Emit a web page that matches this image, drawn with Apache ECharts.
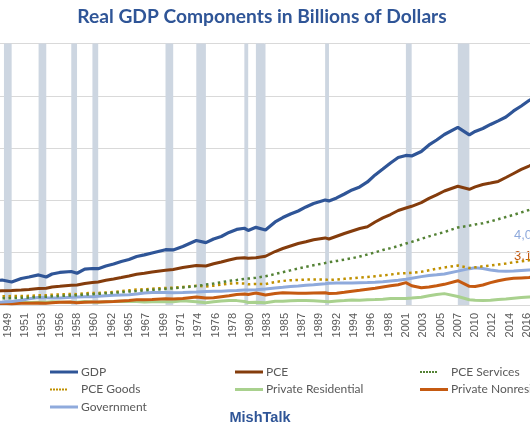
<!DOCTYPE html>
<html>
<head>
<meta charset="utf-8">
<script src="https://cdn.jsdelivr.net/npm/echarts@6/dist/echarts.min.js"></script>
<style>
html,body{margin:0;padding:0;background:#fff;overflow:hidden;width:530px;height:442px;}
#chart{position:absolute;left:-60px;top:0;width:660px;height:442px;}
</style>
</head>
<body>
<div id="chart"></div>
<script>
// Sample dates (quarters)
const quarters = ["1947Q1","1948Q3","1949Q4","1951Q1","1952Q1","1953Q2","1954Q2","1955Q1","1956Q1","1957Q3","1958Q2","1959Q2","1960Q2","1961Q1","1962Q1","1963Q1","1964Q1","1965Q1","1966Q1","1967Q1","1968Q1","1969Q4","1970Q4","1972Q1","1973Q4","1975Q1","1976Q1","1977Q1","1978Q1","1979Q1","1980Q1","1980Q3","1981Q3","1982Q4","1984Q1","1985Q1","1986Q1","1987Q1","1988Q1","1989Q1","1990Q3","1991Q1","1992Q1","1993Q1","1994Q1","1995Q1","1996Q1","1997Q1","1998Q1","1999Q1","2000Q1","2001Q1","2001Q4","2003Q1","2004Q1","2005Q1","2006Q1","2007Q4","2009Q2","2010Q1","2011Q1","2012Q1","2013Q1","2014Q1","2015Q1","2016Q1","2017Q1","2018Q2"];

const gdp = [1800,1910,1760,2030,2140,2300,2140,2370,2490,2560,2430,2750,2790,2780,2980,3140,3330,3480,3710,3830,3980,4230,4210,4480,4930,4770,5050,5240,5550,5780,5870,5700,5940,5740,6350,6690,6960,7190,7500,7760,8030,7960,8190,8490,8800,9030,9410,9950,10400,10860,11280,11440,11400,11740,12240,12620,13040,13590,13010,13270,13500,13810,14080,14380,14840,15220,15640,16070];
const pce = [1060,1090,1110,1150,1190,1260,1280,1380,1430,1510,1530,1645,1720,1760,1890,1990,2100,2220,2350,2430,2520,2650,2720,2870,3020,2980,3150,3290,3440,3570,3620,3570,3620,3730,4090,4320,4510,4700,4840,4990,5130,5050,5260,5470,5660,5850,5990,6350,6660,6920,7230,7420,7550,7830,8150,8420,8720,9080,8850,9030,9220,9330,9450,9750,10060,10370,10630,10980];
const pceServices = [500,510,530,550,570,610,630,660,690,730,750,790,830,850,900,930,980,1030,1070,1120,1160,1230,1270,1340,1450,1560,1640,1740,1840,1910,1990,2020,2080,2200,2370,2510,2650,2790,2920,3040,3210,3270,3370,3470,3580,3710,3860,4030,4210,4350,4510,4700,4830,5060,5250,5420,5580,5930,6070,6160,6250,6390,6560,6730,6890,7080,7270,7540];
const pceGoods = [650,670,680,690,700,740,740,790,810,840,830,900,920,920,960,1000,1060,1120,1180,1200,1250,1300,1320,1380,1470,1410,1480,1560,1640,1660,1640,1580,1610,1610,1760,1840,1900,1910,1940,1950,1950,1910,1950,2000,2040,2090,2140,2200,2260,2330,2410,2430,2460,2540,2650,2770,2870,3020,2830,2880,2960,3020,3100,3170,3270,3340,3420,3520];
const residential = [150,190,210,205,190,205,205,250,230,205,205,270,230,215,245,270,280,275,260,230,250,245,250,320,245,170,245,305,345,335,275,190,205,170,280,290,320,345,335,320,270,245,305,335,380,360,405,420,445,490,505,505,535,590,705,805,870,650,400,365,335,360,420,460,515,565,610,645];
const nonresidential = [110,130,100,130,130,150,140,170,210,220,180,210,230,220,245,270,310,340,405,410,430,480,460,500,610,540,560,630,700,800,840,800,920,770,880,940,920,900,900,920,930,880,900,970,1050,1120,1200,1280,1380,1470,1550,1710,1470,1320,1380,1470,1580,1860,1430,1420,1530,1710,1860,1970,2040,2070,2100,2220];
const government = [190,230,270,360,470,570,550,540,540,590,610,630,640,670,710,740,770,790,840,920,960,960,940,960,990,1030,1050,1060,1090,1110,1150,1150,1170,1220,1300,1350,1420,1450,1510,1550,1630,1660,1680,1680,1680,1710,1720,1740,1780,1840,1900,1970,2040,2170,2260,2310,2370,2590,2780,2850,2790,2680,2600,2580,2600,2640,2680,2720];

// NBER recessions (peak quarter, trough quarter)
const recessions = [["1948Q4","1949Q4"],["1953Q2","1954Q2"],["1957Q3","1958Q2"],["1960Q2","1961Q1"],["1969Q4","1970Q4"],["1973Q4","1975Q1"],["1980Q1","1980Q3"],["1981Q3","1982Q4"],["1990Q3","1991Q1"],["2001Q1","2001Q4"],["2007Q4","2009Q2"]];

const seriesNames = ["GDP","PCE","PCE Services","PCE Goods","Private Residential","Private Nonresidential","Government"];
const endLabels = ["4,0","3,1"];

const firstYear = 1947;
const qIndex = s => (parseInt(s.slice(0,4),10)-firstYear)*4 + (parseInt(s.slice(5),10)-1);
const lastQ = qIndex(quarters[quarters.length-1]);

const chart = echarts.init(document.getElementById('chart'), null, {renderer:'canvas'});

function mk(name, arr, color, width, type) {
  return {
    name: name, type: 'line', z: 3,
    data: quarters.map((q,i)=>[qIndex(q), arr[i]]),
    showSymbol: false, symbol: 'none',
    lineStyle: {color: color, width: width, type: type || 'solid', cap: 'butt'},
    itemStyle: {color: color},
    emphasis: {disabled: true}
  };
}

const series = [
  {
    name: '_rec', type: 'line', data: [], z: 1, silent: true,
    markArea: {
      silent: true,
      itemStyle: {color: '#cdd6e1'},
      data: recessions.map(r => [{xAxis: qIndex(r[0])}, {xAxis: qIndex(r[1])}])
    }
  },
  mk(seriesNames[4], residential, '#a9d18e', 3),
  mk(seriesNames[5], nonresidential, '#c55a11', 3),
  mk(seriesNames[6], government, '#8faadc', 3),
  mk(seriesNames[3], pceGoods, '#bf9000', 2.5, [2.5,3.5]),
  mk(seriesNames[2], pceServices, '#548235', 2.5, [2.5,3.5]),
  mk(seriesNames[1], pce, '#843c0c', 3),
  mk(seriesNames[0], gdp, '#2f5597', 3.2)
];

const solidIcon = 'path://M0,0H28V3H0Z';
const dottedIcon = 'path://M0,0h2v2h-2z M3,0h2v2h-2z M6,0h2v2h-2z M9,0h2v2h-2z M12,0h2v2h-2z M15,0h2v2h-2z M27.95,0h0.05v0.05h-0.05z';
const legItem = (i, dotted) => ({name: seriesNames[i], icon: dotted ? dottedIcon : solidIcon});

const legendBase = {
  orient: 'vertical', top: 366, padding: 0, itemWidth: 28, itemHeight: 14, itemGap: 5.5,
  selectedMode: false,
  textStyle: {color: '#595959', fontSize: 12, fontFamily: 'Lato', padding: [0,0,0,-2]}
};

chart.setOption({
  animation: false,
  backgroundColor: '#ffffff',
  grid: {left: 50.5, right: 61.4, top: 43.5, bottom: 137, containLabel: false},
  xAxis: {
    type: 'value', min: 0, max: lastQ, interval: 9,
    axisLine: {show: true, lineStyle: {color: '#d9d9d9', width: 1}},
    axisTick: {show: false},
    splitLine: {show: false},
    axisLabel: {
      rotate: 90, margin: 8, color: '#595959', fontSize: 11,
      fontFamily: '"Liberation Sans", Arial, sans-serif',
      showMaxLabel: false,
      formatter: v => String(firstYear + Math.floor(v/4))
    }
  },
  yAxis: {
    type: 'value', min: 0, max: 20000, interval: 4000,
    axisLabel: {show: false}, axisLine: {show: false}, axisTick: {show: false},
    splitLine: {lineStyle: {color: '#d9d9d9', width: 1}}
  },
  legend: [
    Object.assign({}, legendBase, {left: 110, data: [legItem(0), legItem(3, true), legItem(6)]}),
    Object.assign({}, legendBase, {left: 295, data: [legItem(1), legItem(4)]}),
    Object.assign({}, legendBase, {left: 480, data: [legItem(2, true), legItem(5)]})
  ],
  graphic: [
    {type: 'text', x: 322, y: 17, style: {text: 'Real GDP Components in Billions of Dollars', font: 'bold 19.2px Lato', fill: '#2f5597', textAlign: 'center', textVerticalAlign: 'middle'}},
    {type: 'text', x: 320, y: 418, style: {text: 'MishTalk', font: 'bold 14.5px "Liberation Sans"', fill: '#2f5597', textAlign: 'center', textVerticalAlign: 'middle'}},
    {type: 'text', x: 574, y: 235, style: {text: endLabels[0], font: '13px "Liberation Sans"', fill: '#8faadc', textAlign: 'left', textVerticalAlign: 'middle'}},
    {type: 'text', x: 574, y: 256, style: {text: endLabels[1], font: '13px "Liberation Sans"', fill: '#c55a11', textAlign: 'left', textVerticalAlign: 'middle'}}
  ],
  series: series
});
</script>
</body>
</html>
